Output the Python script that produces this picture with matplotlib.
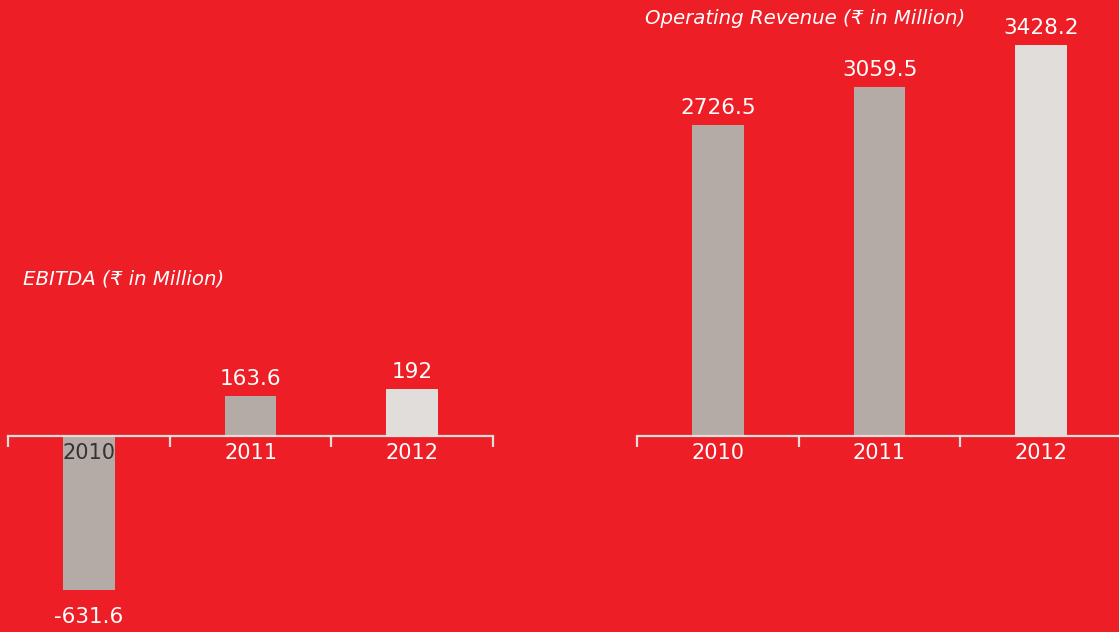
import matplotlib
matplotlib.use('Agg')
import matplotlib.pyplot as plt

YEARS = ['2010', '2011', '2012']
EBITDA = [-631.6, 163.6, 192]
REVENUE = [2726.5, 3059.5, 3428.2]
LABELS_EBITDA = ['-631.6', '163.6', '192']
LABELS_REVENUE = ['2726.5', '3059.5', '3428.2']

BG = '#EE1E26'
GREY = '#B5ABA6'
LIGHT = '#E1DDDA'
AXIS = '#E3DEDB'
FONT = ['DejaVu Sans', 'Noto Sans']

plt.rcParams['font.family'] = FONT

fig = plt.figure(figsize=(11.19, 6.32), dpi=100, facecolor=BG)

W, H = 1119.0, 632.0


def panel(x0, x1, ymin, ymax, values, labels, title, title_xy, dark_first):
	ax = fig.add_axes([x0 / W, 0, (x1 - x0) / W, 1])
	ax.set_facecolor('none')
	colors = [GREY, GREY, LIGHT]
	ax.bar(range(len(values)), values, width=0.32, color=colors, zorder=1)
	ax.set_xlim(-0.5, 2.5)
	ax.set_ylim(ymin, ymax)
	for s in ['top', 'left', 'right']:
		ax.spines[s].set_visible(False)
	ax.spines['bottom'].set_position(('data', 0))
	ax.spines['bottom'].set_color(AXIS)
	ax.spines['bottom'].set_linewidth(1.6)
	ax.set_yticks([])
	ax.set_xticks([0, 1, 2])
	ax.set_xticklabels(YEARS, fontsize=15, color='white')
	ax.set_xticks([-0.5, 0.5, 1.5, 2.5], minor=True)
	ax.tick_params(axis='x', which='major', length=0, pad=5)
	ax.tick_params(axis='x', which='minor', length=8, width=1.6,
		color=AXIS, direction='out')
	if dark_first:
		ax.get_xticklabels()[0].set_color('#333333')
	for i, v in enumerate(values):
		if v >= 0:
			ax.annotate(labels[i], (i, v), xytext=(0, 5), textcoords='offset points',
				ha='center', va='bottom', fontsize=15.5, color='white')
		else:
			ax.annotate(labels[i], (i, v), xytext=(0, -12), textcoords='offset points',
				ha='center', va='top', fontsize=15.5, color='white')
	fig.text(title_xy[0] / W, 1 - title_xy[1] / H, title, fontsize=14.2,
		style='italic', color='white', ha='left', va='center')
	return ax


# left: zero at y=436 px, -631.6 reaching y=590 px
panel(8, 493, -804, 1788, EBITDA, LABELS_EBITDA,
	'EBITDA (\u20b9 in Million)', (23, 279), True)
# right: zero at y=436 px, 0.1142 px per unit
panel(637, 1122, -1716, 3818, REVENUE, LABELS_REVENUE,
	'Operating Revenue (\u20b9 in Million)', (645, 18), False)

fig.savefig('out.png', dpi=100, facecolor=BG)
